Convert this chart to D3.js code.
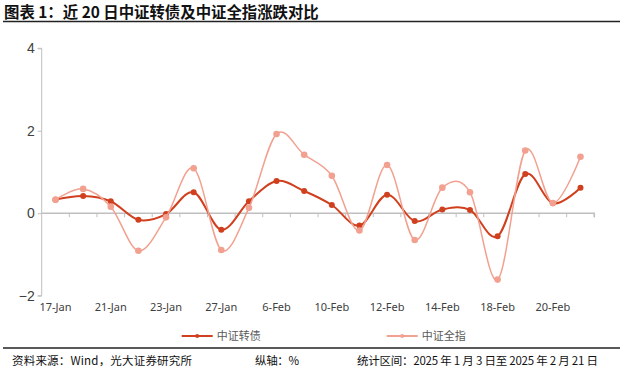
<!DOCTYPE html>
<html>
<head>
<meta charset="utf-8">
<script src="https://cdn.jsdelivr.net/npm/d3@7"></script>
<style>
  body { margin: 0; background: #fff; }
  svg { font-family: "Noto Sans", "Noto Sans CJK SC", sans-serif; }
</style>
</head>
<body>
<svg id="chart" width="640" height="372"></svg>
<script>
// trading days, last 20
var dates = ['17-Jan','20-Jan','21-Jan','22-Jan','23-Jan','24-Jan','27-Jan','5-Feb','6-Feb','7-Feb',
             '10-Feb','11-Feb','12-Feb','13-Feb','14-Feb','17-Feb','18-Feb','19-Feb','20-Feb','21-Feb'];
var cbValues = [0.33,0.42,0.29,-0.16,-0.02,0.51,-0.40,0.29,0.78,0.54,
                0.20,-0.30,0.45,-0.19,0.09,0.08,-0.56,0.95,0.24,0.62];   // 中证转债
var allValues = [0.33,0.59,0.16,-0.91,-0.10,1.09,-0.89,0.13,1.92,1.42,
                 0.91,-0.42,1.17,-0.65,0.62,0.51,-1.61,1.52,0.25,1.37];  // 中证全指
var yTicks = [-2, 0, 2, 4];
var seriesNames = ['中证转债', '中证全指'];

var svg = d3.select('#chart');
var darkRed = '#d0401f', lightRed = '#f2a08f';

// title
svg.append('text')
    .attr('x', 4).attr('y', 17.5)
    .attr('font-size', 15.4).attr('font-weight', 'bold')
    .attr('font-family', '"Noto Sans CJK SC", sans-serif')
    .attr('fill', '#111')
    .text('图表 1：近 20 日中证转债及中证全指涨跌对比');
svg.append('line')
    .attr('x1', 3).attr('x2', 620).attr('y1', 21.5).attr('y2', 21.5)
    .attr('stroke', '#222').attr('stroke-width', 1.3);

// scales
var x = d3.scaleBand()
    .domain(dates)
    .range([41.7, 594.3]);

var y = d3.scaleLinear()
    .domain([-2, 4])
    .range([295.7, 48.3]);

var g = svg.append('g');

// y-axis
var yAxis = d3.axisLeft(y)
    .tickValues(yTicks)
    .tickSize(4)
    .tickFormat(d3.format('d'));
var ya = g.append('g')
    .attr('transform', 'translate(41.7,0)')
    .call(yAxis);
ya.select('.domain').attr('stroke', '#bfbfbf').attr('d', 'M-4,' + y(4) + 'H0V' + y(-2) + 'H-4');
ya.selectAll('.tick line').attr('stroke', '#bfbfbf');
ya.selectAll('.tick text')
    .attr('x', -7)
    .attr('font-size', 14)
    .attr('fill', '#404040');

// x-axis on zero line
var xAxis = d3.axisBottom(x)
    .tickSize(4)
    .tickFormat(function () { return ''; });
var xa = g.append('g')
    .attr('transform', 'translate(0,' + y(0) + ')')
    .call(xAxis);
xa.select('.domain').attr('stroke', '#bfbfbf').attr('stroke-width', 1.5).attr('d', 'M41.7,0H594.3V4');
// ticks sit at band boundaries
xa.selectAll('.tick').attr('transform', function (d) { return 'translate(' + (x(d) + x.bandwidth()) + ',0)'; });
xa.selectAll('.tick line').attr('stroke', '#bfbfbf').attr('y2', 4);

// category labels at the bottom, every other day
g.selectAll('.xlab')
    .data(dates.filter(function (d, i) { return i % 2 === 0; }))
    .enter()
    .append('text')
    .attr('class', 'xlab')
    .attr('x', function (d) { return x(d) + x.bandwidth() / 2; })
    .attr('y', 311)
    .attr('text-anchor', 'middle')
    .attr('font-size', 11)
    .attr('fill', '#404040')
    .text(function (d) { return d; });

// lines
var line = d3.line()
    .x(function (d, i) { return x(dates[i]) + x.bandwidth() / 2; })
    .y(function (d) { return y(d); })
    .curve(d3.curveCardinal.tension(0));

function drawSeries(values, color, width, r) {
    g.append('path')
        .datum(values)
        .attr('fill', 'none')
        .attr('stroke', color)
        .attr('stroke-width', width)
        .attr('d', line);
    g.append('g')
        .selectAll('circle')
        .data(values)
        .enter()
        .append('circle')
        .attr('cx', function (d, i) { return x(dates[i]) + x.bandwidth() / 2; })
        .attr('cy', function (d) { return y(d); })
        .attr('r', r)
        .attr('fill', color);
}
drawSeries(cbValues, darkRed, 2, 3);
drawSeries(allValues, lightRed, 1.5, 3.3);

// legend
var legend = [
    {name: seriesNames[0], color: darkRed, x: 181.7},
    {name: seriesNames[1], color: lightRed, x: 386.7}
];
var lg = svg.selectAll('.legend')
    .data(legend)
    .enter()
    .append('g')
    .attr('class', 'legend')
    .attr('transform', function (d) { return 'translate(' + d.x + ',336)'; });
lg.append('line')
    .attr('x1', 0).attr('x2', 31)
    .attr('stroke', function (d) { return d.color; })
    .attr('stroke-width', 2);
lg.append('circle')
    .attr('cx', 15.5).attr('r', 2)
    .attr('fill', function (d) { return d.color; });
lg.append('text')
    .attr('x', 35).attr('y', 4)
    .attr('font-size', 11)
    .attr('font-family', '"Noto Sans CJK SC", sans-serif')
    .attr('fill', '#595959')
    .text(function (d) { return d.name; });

// footer
svg.append('line')
    .attr('x1', 3).attr('x2', 620).attr('y1', 348).attr('y2', 348)
    .attr('stroke', '#222').attr('stroke-width', 1.3);

var footer = [
    {x: 12, w: 180, t: '资料来源：Wind，光大证券研究所'},
    {x: 255, w: 44, t: '纵轴：%'},
    {x: 357, w: 241, t: '统计区间：2025 年 1 月 3 日至 2025 年 2 月 21 日'}
];
svg.selectAll('.foot')
    .data(footer)
    .enter()
    .append('text')
    .attr('class', 'foot')
    .attr('x', function (d) { return d.x; })
    .attr('y', 365)
    .attr('font-size', 11.5)
    .attr('font-family', '"Noto Sans CJK SC", sans-serif')
    .attr('fill', '#111')
    .attr('textLength', function (d) { return d.w; })
    .attr('lengthAdjust', 'spacing')
    .text(function (d) { return d.t; });
</script>
</body>
</html>
